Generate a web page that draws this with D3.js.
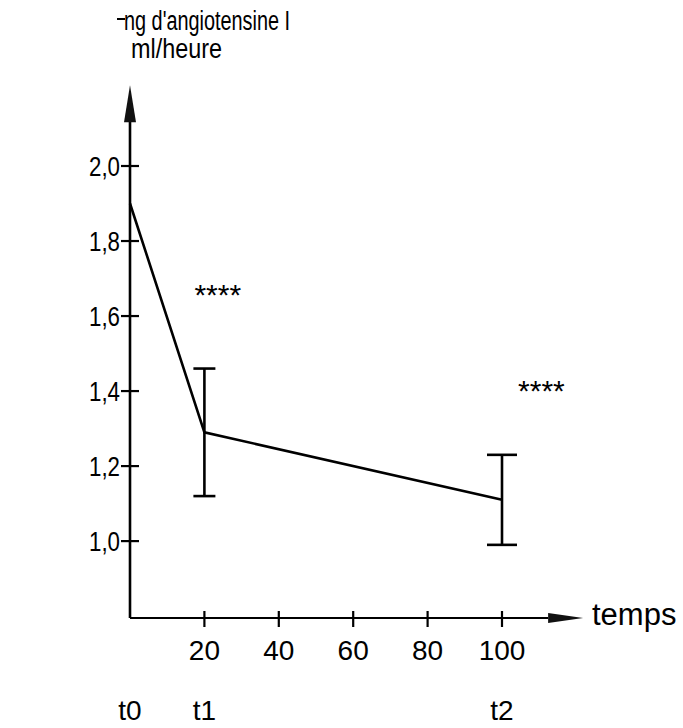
<!DOCTYPE html>
<html><head><meta charset="utf-8">
<script src="https://cdn.jsdelivr.net/npm/d3@7/dist/d3.min.js"></script>
<style>html,body{margin:0;padding:0;background:#fff;}svg{display:block;}</style>
</head><body>
<script>
// ---- data ----
const timeLabels = ["t0", "t1", "t2"];
const times = [0, 20, 100];
const means = [1.90, 1.29, 1.11];
const errUpper = [null, 1.46, 1.23];
const errLower = [null, 1.12, 0.99];
const xTicks = [20, 40, 60, 80, 100];
const yTicks = [1.0, 1.2, 1.4, 1.6, 1.8, 2.0];
const yTickLabels = ["1,0", "1,2", "1,4", "1,6", "1,8", "2,0"];
const starLabels = [{t: 20, v: 1.675, text: "****"}, {t: 107, v: 1.42, text: "****"}];
const yTitle1 = "ng d'angiotensine I";
const yTitle2 = "ml/heure";
const xTitle = "temps";

const W = 683, H = 728;
const svg = d3.select("body").append("svg").attr("width", W).attr("height", H);
const font = "'Liberation Sans', Arial, Helvetica, sans-serif";

const yMin = 0.795;
const x = d3.scaleLinear().domain([0, 100]).range([130, 502]);
const y = d3.scaleLinear().domain([yMin, 2.0]).range([618, 166]);
const xArrowBase = 112.4, xArrowTip = 121.8, yTop = 2.215;
const capHalf = [0, 11, 15];

// axes lines
const g = svg.append("g").attr("stroke", "#000").attr("fill", "none");
g.append("line").attr("x1", x(0)).attr("x2", x(0)).attr("y1", y(yMin)).attr("y2", y(yTop) + 20).attr("stroke-width", 2.6);
g.append("line").attr("x1", x(0)).attr("x2", x(xArrowBase)).attr("y1", y(yMin)).attr("y2", y(yMin)).attr("stroke-width", 2.2);

// arrowheads
svg.append("path")
  .attr("d", `M${x(0)},${y(yTop)} L${x(0)-6},${y(yTop)+37} L${x(0)+6},${y(yTop)+37} Z`)
  .attr("fill", "#111");
svg.append("path")
  .attr("d", `M${x(xArrowTip)},${y(yMin)} L${x(xArrowBase)},${y(yMin)-5} L${x(xArrowBase)},${y(yMin)+5} Z`)
  .attr("fill", "#111");

// y ticks
g.selectAll(".yt").data(yTicks).enter().append("line")
  .attr("x1", x(0) - 9).attr("x2", x(0) + 9)
  .attr("y1", d => y(d)).attr("y2", d => y(d)).attr("stroke-width", 2.2);
svg.selectAll(".ytl").data(yTicks).enter().append("text")
  .attr("x", 89).attr("y", d => y(d)).attr("dy", "0.36em")
  .attr("textLength", 31).attr("lengthAdjust", "spacingAndGlyphs")
  .attr("font-family", font).attr("font-size", 28)
  .text((d, i) => yTickLabels[i]);

// x ticks
g.selectAll(".xt").data(xTicks).enter().append("line")
  .attr("x1", d => x(d)).attr("x2", d => x(d))
  .attr("y1", y(yMin) - 7).attr("y2", y(yMin) + 9).attr("stroke-width", 2.2);
svg.selectAll(".xtl").data(xTicks).enter().append("text")
  .attr("x", d => x(d)).attr("y", 660)
  .attr("text-anchor", "middle").attr("font-family", font).attr("font-size", 28)
  .text(d => d);

// time labels
svg.selectAll(".tl").data(times).enter().append("text")
  .attr("x", d => x(d)).attr("y", 720)
  .attr("text-anchor", "middle").attr("font-family", font).attr("font-size", 28)
  .text((d, i) => timeLabels[i]);

// titles
svg.append("path").attr("d", "M117,19 L125,19").attr("stroke", "#000").attr("stroke-width", 2);
svg.append("text").attr("x", 124).attr("y", 30)
  .attr("textLength", 166).attr("lengthAdjust", "spacingAndGlyphs")
  .attr("font-family", font).attr("font-size", 27).text(yTitle1);
svg.append("text").attr("x", 131).attr("y", 58)
  .attr("textLength", 91).attr("lengthAdjust", "spacingAndGlyphs")
  .attr("font-family", font).attr("font-size", 27).text(yTitle2);
svg.append("text").attr("x", 592).attr("y", y(yMin) + 7)
  .attr("font-family", font).attr("font-size", 31).text(xTitle);

// line
const pts = times.map((t, i) => [t, means[i]]);
svg.append("path").datum(pts)
  .attr("d", d3.line().x(d => x(d[0])).y(d => y(d[1])))
  .attr("fill", "none").attr("stroke", "#000").attr("stroke-width", 2.6);

// error bars
const eb = times.map((t, i) => ({t, lo: errLower[i], hi: errUpper[i], c: capHalf[i]})).filter(d => d.hi != null);
const ebg = svg.append("g").attr("stroke", "#000");
ebg.selectAll(".ev").data(eb).enter().append("line")
  .attr("x1", d => x(d.t)).attr("x2", d => x(d.t))
  .attr("y1", d => y(d.lo)).attr("y2", d => y(d.hi)).attr("stroke-width", 2.6);
ebg.selectAll(".ec1").data(eb).enter().append("line")
  .attr("x1", d => x(d.t) - d.c).attr("x2", d => x(d.t) + d.c)
  .attr("y1", d => y(d.hi)).attr("y2", d => y(d.hi)).attr("stroke-width", 2.6);
ebg.selectAll(".ec2").data(eb).enter().append("line")
  .attr("x1", d => x(d.t) - d.c).attr("x2", d => x(d.t) + d.c)
  .attr("y1", d => y(d.lo)).attr("y2", d => y(d.lo)).attr("stroke-width", 2.6);

// stars
svg.selectAll(".st").data(starLabels).enter().append("text")
  .attr("x", d => x(d.t) - 10).attr("y", d => y(d.v) + 17)
  .attr("font-family", font).attr("font-size", 30).text(d => d.text);
</script>
</body></html>
